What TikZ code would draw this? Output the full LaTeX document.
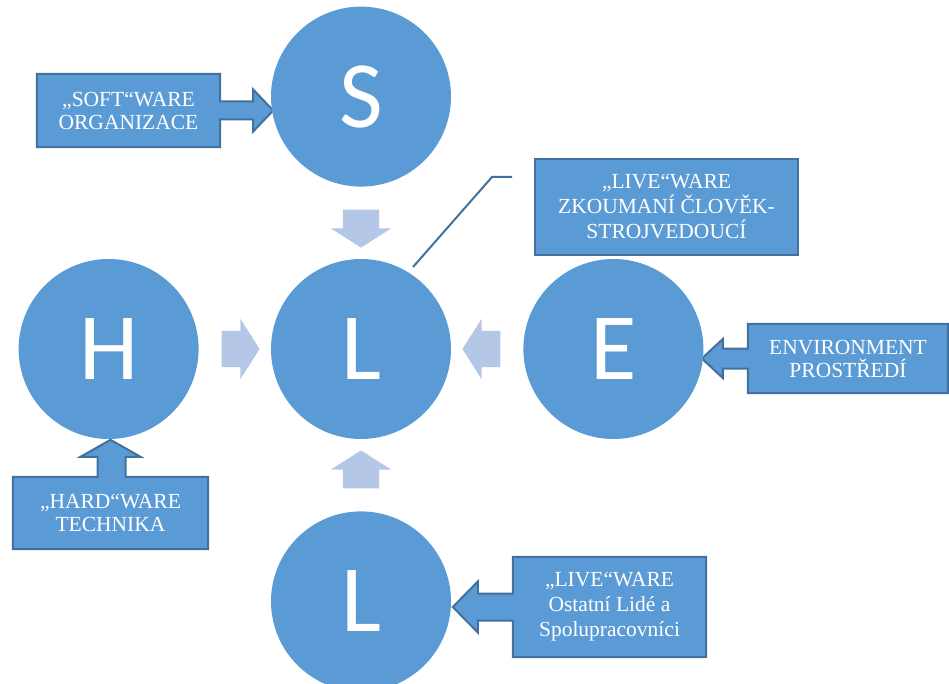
\documentclass[tikz,border=0pt]{standalone}
\usepackage{fontspec}
\setmainfont{Liberation Serif}
\newfontfamily\letterfont{Carlito}
\usetikzlibrary{positioning}
\usetikzlibrary{calc}
\usetikzlibrary{shapes.arrows}
\usetikzlibrary{backgrounds}
\definecolor{ballblue}{HTML}{5B9BD5}
\definecolor{edgeblue}{HTML}{41719C}
\definecolor{paleblue}{HTML}{B4C7E7}

\begin{document}
\begin{tikzpicture}[x=1pt, y=-1pt,
                          node distance=72pt,
                          ballnode/.style={circle, fill=ballblue, minimum size=180pt, inner sep=0pt, text=white, font=\letterfont\fontsize{95}{95}\selectfont},
                          flownode/.style={single arrow, fill=paleblue, minimum height=38pt, minimum width=60pt, inner sep=0pt, single arrow head extend=12pt, single arrow tip angle=115, single arrow head indent=0pt},
                          flowflat/.style={flownode, inner ysep=18pt},
                          flowtall/.style={flownode, inner xsep=18pt},
                          labelnode/.style={align=center, text=white, inner sep=0pt, font=\fontsize{21.5}{23}\selectfont},
                          calloutline/.style={fill=ballblue, draw=edgeblue, line width=2pt, line join=miter},
                      ]
                      \useasboundingbox (0,0) rectangle (949,684);
                      \clip (0,0) rectangle (949,684);
                      % Nodes
                      \node[ballnode]        (L_mid)    at (361,349)        {L};
                      \node[ballnode]        (S)        [above=of L_mid]    {S};
                      \node[ballnode]        (H)        [left=of L_mid]     {H};
                      \node[ballnode]        (E)        [right=of L_mid]    {E};
                      \node[ballnode]        (L_low)    [below=of L_mid]    {L};

                      \node[flowtall, shape border rotate=270]   (flow_S)   at ($(S)!0.5!(L_mid)$)      {};
                      \node[flowflat, shape border rotate=0]     (flow_H)   at ($(H)!0.5!(L_mid)$)      {};
                      \node[flowflat, shape border rotate=180]   (flow_E)   at ($(E)!0.5!(L_mid)$)      {};
                      \node[flowtall, shape border rotate=90]    (flow_L)   at ($(L_low)!0.5!(L_mid)$)  {};

                      \node[labelnode, minimum width=183pt, minimum height=73pt]   (soft)    at (128.5,110.5)   {„SOFT“WARE\\ORGANIZACE};
                      \node[labelnode, minimum width=263pt, minimum height=96pt, fill=ballblue, draw=edgeblue, line width=2pt, font=\fontsize{21.5}{25}\selectfont]   (live_top)   at (666.5,207)   {„LIVE“WARE\\ZKOUMANÍ ČLOVĚK-\\STROJVEDOUCÍ};
                      \node[labelnode, minimum width=200pt, minimum height=69pt]   (env)     at (848,358.5)     {ENVIRONMENT\\PROSTŘEDÍ};
                      \node[labelnode, minimum width=195pt, minimum height=72pt]   (hard)    at (110.5,513)     {„HARD“WARE\\TECHNIKA};
                      \node[labelnode, minimum width=193pt, minimum height=100pt, font=\fontsize{21.5}{25}\selectfont]  (live_low)  at (609.5,607)  {„LIVE“WARE\\Ostatní Lidé a\\Spolupracovníci};

                      \coordinate (lead_start)  at (512,177);
                      \coordinate (lead_bend)   at (492,177);
                      \coordinate (lead_end)    at (413,267);

                      %Lines
                      \begin{scope}[on background layer]
                      \filldraw[calloutline] (soft.north west) -- (soft.north east) -- ($(soft.east)+(0,-9)$) -- ($(soft.east)+(33,-9)$) -- ($(soft.east)+(33,-21)$) -- ($(soft.east)+(53,0)$) -- ($(soft.east)+(33,21)$) -- ($(soft.east)+(33,9)$) -- ($(soft.east)+(0,9)$) -- (soft.south east) -- (soft.south west) -- cycle;
                      \filldraw[calloutline] (env.north east) -- (env.north west) -- ($(env.west)+(0,-10)$) -- ($(env.west)+(-25,-10)$) -- ($(env.west)+(-25,-19.5)$) -- ($(env.west)+(-46,0)$) -- ($(env.west)+(-25,19.5)$) -- ($(env.west)+(-25,10)$) -- ($(env.west)+(0,10)$) -- (env.south west) -- (env.south east) -- cycle;
                      \filldraw[calloutline] (hard.north west) -- ($(hard.north)+(-13,0)$) -- ($(hard.north)+(-13,-20)$) -- ($(hard.north)+(-30,-20)$) -- ($(hard.north)+(0,-37)$) -- ($(hard.north)+(30,-20)$) -- ($(hard.north)+(15,-20)$) -- ($(hard.north)+(15,0)$) -- (hard.north east) -- (hard.south east) -- (hard.south west) -- cycle;
                      \filldraw[calloutline] (live_low.north east) -- (live_low.north west) -- ($(live_low.west)+(0,-13.5)$) -- ($(live_low.west)+(-35,-13.5)$) -- ($(live_low.west)+(-35,-25.5)$) -- ($(live_low.west)+(-60,0)$) -- ($(live_low.west)+(-35,25.5)$) -- ($(live_low.west)+(-35,13.5)$) -- ($(live_low.west)+(0,13.5)$) -- (live_low.south west) -- (live_low.south east) -- cycle;
                      \end{scope}
                      \draw[edgeblue, line width=2pt] (lead_start) -- (lead_bend) -- (lead_end);
                  \end{tikzpicture}
\end{document}
